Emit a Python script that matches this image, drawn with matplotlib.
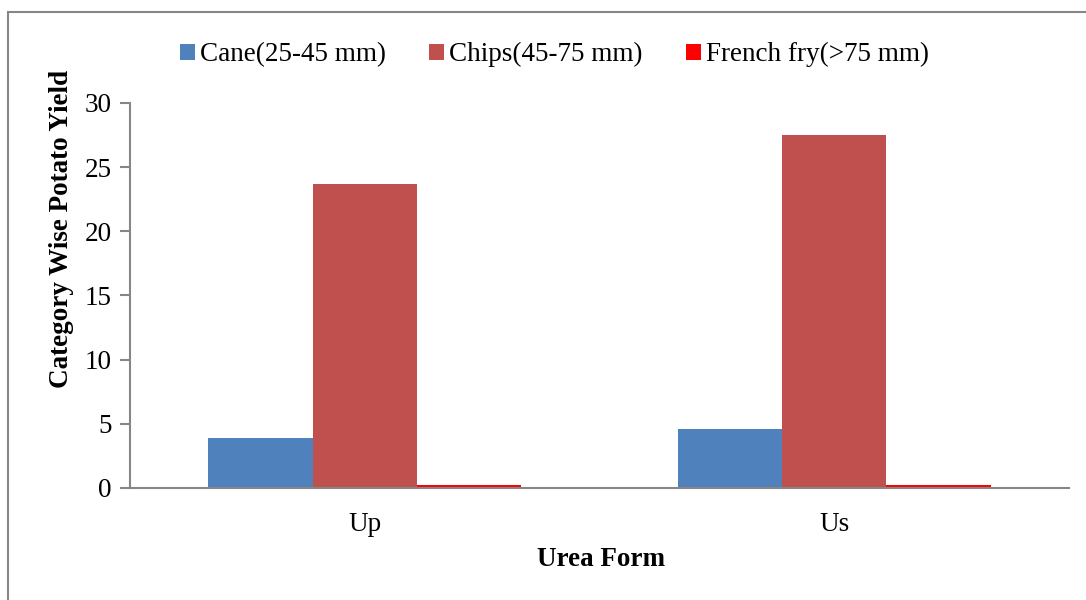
import numpy as np
import matplotlib.pyplot as plt
from matplotlib.patches import Rectangle

plt.rcParams['font.family'] = ['Liberation Serif', 'DejaVu Serif']

urea_forms = ['Up', 'Us']
cane = [3.9, 4.6]
chips = [23.7, 27.5]
french_fry = [0.22, 0.24]

series = [
    ('Cane(25-45 mm)', cane, '#4F81BD'),
    ('Chips(45-75 mm)', chips, '#C0504D'),
    ('French fry(>75 mm)', french_fry, '#FF0000'),
]

FS = 19.5

fig = plt.figure(figsize=(10.86, 6.0), dpi=100)
ax = fig.add_axes([0.1197, 0.1867, 0.8647, 0.6417])

# chart frame
fig.patches.append(Rectangle((8 / 1086, -0.1), 1.2, 0.1 + 588 / 600,
                             transform=fig.transFigure, fill=False,
                             edgecolor='#868686', linewidth=1.5))

x = np.arange(len(urea_forms))
width = 0.2223
for i, (name, vals, color) in enumerate(series):
    ax.bar(x + (i - 1) * width, vals, width, color=color, label=name)

ax.set_xlim(-0.5, 1.5)
ax.set_ylim(0, 30)
ax.set_yticks(range(0, 31, 5))
ax.set_xticks(x)
ax.set_xticklabels(urea_forms)

for side in ['top', 'right']:
    ax.spines[side].set_visible(False)
for side in ['left', 'bottom']:
    ax.spines[side].set_color('#868686')
    ax.spines[side].set_linewidth(1.5)

ax.tick_params(axis='y', length=7, width=1.5, color='#868686',
               labelsize=FS, pad=6)
ax.tick_params(axis='x', length=0, labelsize=FS, pad=17)

# axis titles sit where the chart places them, not centred on the axes
fig.text(601 / 1086, 1 - 559 / 600, 'Urea Form', fontsize=FS,
         fontweight='bold', ha='center', va='center')
fig.text(62 / 1086, 1 - 229 / 600, 'Category Wise Potato Yield', fontsize=FS,
         fontweight='bold', rotation=90, ha='center', va='center')

ax.legend(loc='center', bbox_to_anchor=(0.452, 1.125), ncol=3,
          frameon=False, fontsize=FS, handlelength=0.55, handleheight=0.55,
          handletextpad=0.18, columnspacing=1.6, borderpad=0)

fig.savefig('out.png', dpi=100)
